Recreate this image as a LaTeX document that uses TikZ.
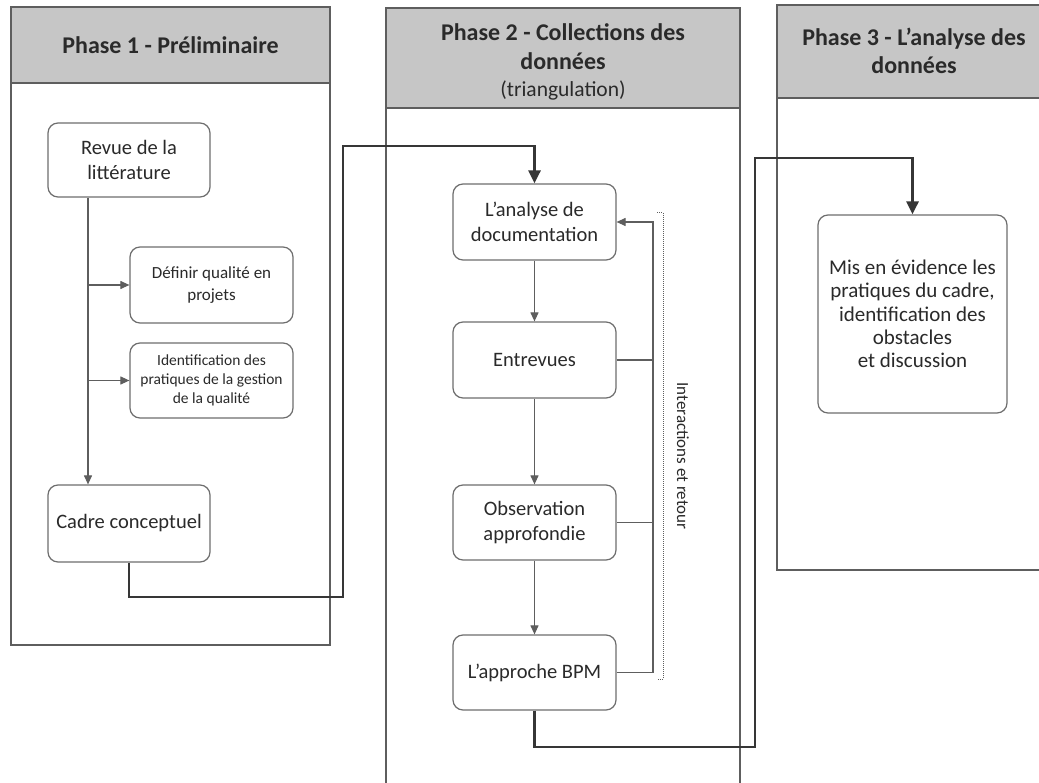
\documentclass[tikz,border=0pt]{standalone}
\usepackage{fontspec}
\setmainfont{Carlito}
\usetikzlibrary{arrows.meta}

\definecolor{ink}{HTML}{2A2A2A}
\definecolor{rule}{HTML}{5E5E5E}
\definecolor{boxline}{HTML}{6E6E6E}
\definecolor{headfill}{HTML}{C6C6C6}
\definecolor{link}{HTML}{363636}

\tikzset{
  panel/.style={draw=rule, line width=1.5pt},
  header/.style={draw=rule, line width=1.5pt, fill=headfill, inner sep=0pt},
  title/.style={text=ink, align=center, inner sep=0pt,
    font=\bfseries\fontsize{24}{28.5}\selectfont},
  stepbox/.style={draw=boxline, line width=1.2pt, rounded corners=10pt, fill=white,
    text=ink, align=center, inner sep=2pt, font=\fontsize{20.5}{25}\selectfont},
  smallbox/.style={stepbox, font=\fontsize{17}{22}\selectfont},
  tinybox/.style={stepbox, font=\fontsize{15.5}{19}\selectfont},
  flow/.style={draw=rule, line width=1.1pt, -{Triangle[length=9pt,width=8pt]}},
  plain/.style={draw=rule, line width=1.1pt},
  bigflow/.style={draw=link, line width=2.8pt, -{Triangle[length=13pt,width=12pt]}},
}

\begin{document}
\begin{tikzpicture}[x=1pt,y=-1pt]
\clip (0,0) rectangle (1039,783);
\fill[white] (0,0) rectangle (1039,783);

% phase panels
\draw[panel] (11,7) rectangle (330,645);
\draw[panel] (386,8) rectangle (740,795);
\draw[panel] (777,5) rectangle (1051,570);

% grey title bands
\node[header, minimum width=319pt, minimum height=76pt] (h1) at (170.5,45) {};
\node[header, minimum width=354pt, minimum height=100pt] (h2) at (563,58) {};
\node[header, minimum width=274pt, minimum height=93pt] (h3) at (914,51.5) {};

\node[title] (t1) at (h1.center) {Phase 1 - Préliminaire};
\node[title] (t2) at (563,62)
  {Phase 2 - Collections des\\données\\[-1pt]{\mdseries\fontsize{21.5}{23}\selectfont(triangulation)}};
\node[title] (t3) at (914,51) {Phase 3 - L’analyse des\\données};

% phase 1 steps
\node[stepbox, minimum width=162pt, minimum height=74pt] (revue) at (129,160)
  {Revue de la\\littérature};
\node[smallbox, minimum width=163pt, minimum height=76pt] (def) at (211.5,285)
  {Définir qualité en\\projets};
\node[tinybox, minimum width=163pt, minimum height=75pt] (ident) at (211.5,380.5)
  {Identification des\\pratiques de la gestion\\de la qualité};
\node[stepbox, minimum width=162pt, minimum height=77pt] (cadre) at (129,523.5)
  {Cadre conceptuel};

% phase 2 steps
\node[stepbox, minimum width=163pt, minimum height=76pt] (doc) at (534.5,222)
  {L’analyse de\\documentation};
\node[stepbox, minimum width=163pt, minimum height=76pt] (entre) at (534.5,360)
  {Entrevues};
\node[stepbox, minimum width=163pt, minimum height=75pt] (obs) at (534.5,522.5)
  {Observation\\approfondie};
\node[stepbox, minimum width=163pt, minimum height=75pt] (bpm) at (534.5,672.5)
  {L’approche BPM};

% phase 3 step
\node[stepbox, minimum width=189pt, minimum height=198pt,
  font=\fontsize{21}{23.3}\selectfont] (mis) at (912.5,314)
  {Mis en évidence les\\pratiques du cadre,\\identification des\\obstacles\\et discussion};

% phase 1 links
\coordinate (spine) at (88,0);
\draw[flow] (revue.south -| spine) -- (cadre.north -| spine);
\draw[flow] (def.west -| spine) -- (def.west);
\draw[flow] (ident.west -| spine) -- (ident.west);

% phase 2 links
\draw[flow] (doc) -- (entre);
\draw[flow] (entre) -- (obs);
\draw[flow] (obs) -- (bpm);

% feedback loop
\coordinate (fb) at (653,0);
\draw[flow] (bpm.east) -- (bpm.east -| fb) -- (doc.east -| fb) -- (doc.east);
\draw[plain] (entre.east) -- (entre.east -| fb);
\draw[plain] (obs.east) -- (obs.east -| fb);
\coordinate (brtop) at (657,213);
\coordinate (brbot) at (657,679);
\draw[draw=rule, line width=1pt, densely dotted] (brtop) -- ++(6,0) |- (brbot);
\node[rotate=-90, text=ink, font=\fontsize{17}{18}\selectfont] (fbl) at (683,456)
  {Interactions et retour};

% links between phases
\coordinate (j1) at (343,597);
\coordinate (j2) at (343,146);
\draw[bigflow] (cadre.south) |- (j1) -- (j2) -| (doc.north);
\coordinate (j3) at (755,747);
\coordinate (j4) at (755,158);
\draw[bigflow] (bpm.south) |- (j3) -- (j4) -| (mis.north);
\end{tikzpicture}
\end{document}
